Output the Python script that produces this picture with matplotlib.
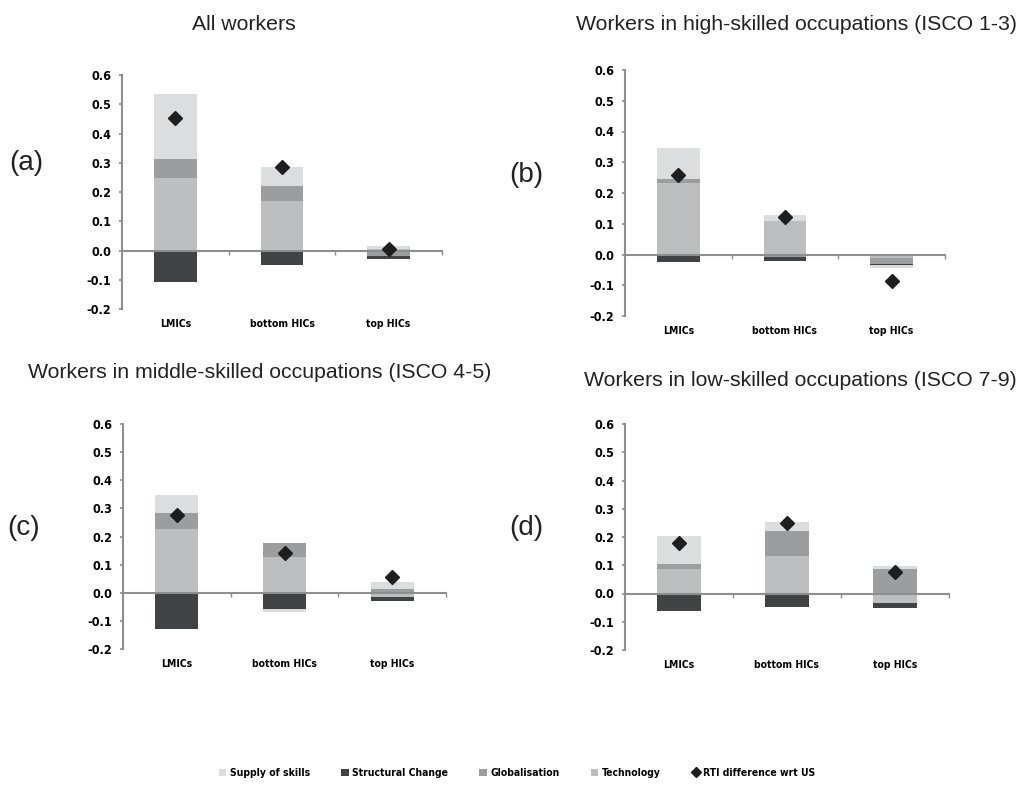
import matplotlib
matplotlib.use("Agg")
import matplotlib.pyplot as plt
from matplotlib.patches import Patch
from matplotlib.lines import Line2D
import numpy as np

categories = ["LMICs", "bottom HICs", "top HICs"]
series_names = ["Supply of skills", "Structural Change", "Globalisation", "Technology"]
yticks = [-0.2, -0.1, 0.0, 0.1, 0.2, 0.3, 0.4, 0.5, 0.6]

# (a) All workers
a_tech = [0.248, 0.170, 0.006]
a_glob = [0.065, 0.051, -0.019]
a_struct = [-0.106, -0.050, -0.010]
a_supply = [0.223, 0.064, 0.008]
a_rti = [0.454, 0.285, 0.006]

# (b) High-skilled occupations
b_tech = [0.233, 0.110, -0.011]
b_glob = [0.014, -0.008, -0.019]
b_struct = [-0.025, -0.013, -0.003]
b_supply = [0.099, 0.017, -0.011]
b_rti = [0.259, 0.121, -0.085]

# (c) Middle-skilled occupations
c_tech = [0.227, 0.126, -0.015]
c_glob = [0.056, 0.052, 0.015]
c_struct = [-0.130, -0.058, -0.013]
c_supply = [0.063, -0.010, 0.022]
c_rti = [0.276, 0.143, 0.055]

# (d) Low-skilled occupations
d_tech = [0.086, 0.134, -0.035]
d_glob = [0.019, 0.088, 0.085]
d_struct = [-0.063, -0.047, -0.017]
d_supply = [0.098, 0.031, 0.012]
d_rti = [0.180, 0.249, 0.075]

titles = ["All workers",
          "Workers in high-skilled occupations (ISCO 1-3)",
          "Workers in middle-skilled occupations (ISCO 4-5)",
          "Workers in low-skilled occupations (ISCO 7-9)"]
panel_tags = ["(a)", "(b)", "(c)", "(d)"]

COL_SUPPLY = "#dcdddf"
COL_STRUCT = "#414243"
COL_GLOB = "#9c9d9f"
COL_TECH = "#bdbec0"
COL_AXIS = "#8e8e8e"
COL_MARK = "#1e1e1e"

BOLD_NARROW = dict(family=["DejaVu Sans"], weight="bold", stretch="condensed")
PLAIN = dict(family=["Liberation Sans", "DejaVu Sans"])

W, H = 1031, 786
fig = plt.figure(figsize=(W / 100, H / 100), dpi=100)


def px_axes(left, right, top, bottom):
    return fig.add_axes([left / W, 1 - bottom / H, (right - left) / W, (bottom - top) / H])


def draw_panel(ax, tech, glob, struct, supply, rti):
    x = np.arange(len(categories))
    pos = np.zeros(len(categories))
    neg = np.zeros(len(categories))
    # Stacked components; positives and negatives accumulate separately
    for vals, col in [(tech, COL_TECH), (glob, COL_GLOB), (struct, COL_STRUCT), (supply, COL_SUPPLY)]:
        v = np.asarray(vals)
        base = np.where(v >= 0, pos, neg)
        ax.bar(x, v, width=0.4, bottom=base, color=col, edgecolor="none", zorder=2)
        pos = pos + np.where(v >= 0, v, 0)
        neg = neg + np.where(v < 0, v, 0)
    ax.plot(x, rti, linestyle="none", marker="D", markersize=7, color=COL_MARK, zorder=4)

    ax.set_xlim(-0.5, 2.5)
    ax.set_ylim(-0.2, 0.6)
    ax.set_yticks(yticks)
    ax.set_yticklabels([f"{t:.1f}" for t in yticks], fontsize=9, **BOLD_NARROW)
    ax.tick_params(axis="y", direction="out", length=2.5, width=1.2, color=COL_AXIS, pad=5)

    for s in ["top", "right"]:
        ax.spines[s].set_visible(False)
    ax.spines["left"].set_color(COL_AXIS)
    ax.spines["left"].set_linewidth(1.5)
    ax.spines["bottom"].set_position(("data", 0.0))
    ax.spines["bottom"].set_color(COL_AXIS)
    ax.spines["bottom"].set_linewidth(1.5)
    ax.spines["bottom"].set_zorder(3)
    ax.set_xticks([0.5, 1.5, 2.5])
    ax.set_xticklabels([])
    ax.tick_params(axis="x", direction="out", length=3, width=1.0, color=COL_AXIS)
    ax.patch.set_visible(False)

    for i, c in enumerate(categories):
        ax.annotate(c, xy=(i, -0.2), xycoords="data", xytext=(0, -11),
                    textcoords="offset points", ha="center", va="center",
                    fontsize=7.5, **BOLD_NARROW)


panels = [
    ((122, 442, 75, 309), (a_tech, a_glob, a_struct, a_supply, a_rti)),
    ((625, 945, 70, 316), (b_tech, b_glob, b_struct, b_supply, b_rti)),
    ((123, 446, 424, 649), (c_tech, c_glob, c_struct, c_supply, c_rti)),
    ((625, 949, 424, 650), (d_tech, d_glob, d_struct, d_supply, d_rti)),
]
for (box, data) in panels:
    ax = px_axes(*box)
    draw_panel(ax, *data)

# Panel titles and tags
title_pos = [(244, 24), (797, 24), (260, 372), (800, 381)]
for t, (tx, ty) in zip(titles, title_pos):
    fig.text(tx / W, 1 - ty / H, t, ha="center", va="center", fontsize=15.3, color="#222222", **PLAIN)

tag_pos = [(26, 163), (526, 175), (24, 528), (526, 528)]
for t, (tx, ty) in zip(panel_tags, tag_pos):
    fig.text(tx / W, 1 - ty / H, t, ha="center", va="center", fontsize=20, color="#222222", **PLAIN)

# Legend
handles = [
    Patch(facecolor=COL_SUPPLY, edgecolor="none"),
    Patch(facecolor=COL_STRUCT, edgecolor="none"),
    Patch(facecolor=COL_GLOB, edgecolor="none"),
    Patch(facecolor=COL_TECH, edgecolor="none"),
    Line2D([], [], linestyle="none", marker="D", markersize=5, color=COL_MARK),
]
labels = series_names + ["RTI difference wrt US"]
leg = fig.legend(handles, labels, loc="center", bbox_to_anchor=(517 / W, 1 - 773 / H), ncol=5,
                 frameon=False, handlelength=0.7, handleheight=0.7, handletextpad=0.35,
                 columnspacing=3.0, prop=dict(size=7.5, **BOLD_NARROW))

fig.savefig("out.png", dpi=100, facecolor="white")
